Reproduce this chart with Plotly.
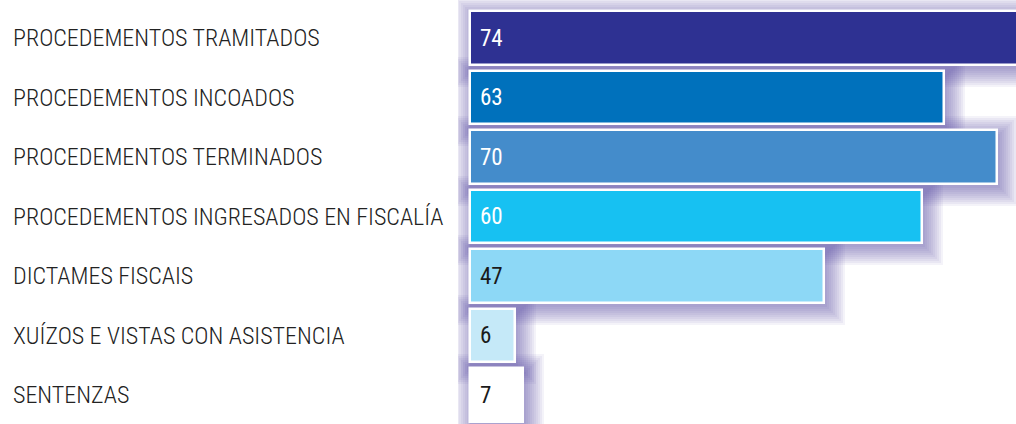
import plotly.graph_objects as go

categories = [
    "PROCEDEMENTOS TRAMITADOS",
    "PROCEDEMENTOS INCOADOS",
    "PROCEDEMENTOS TERMINADOS",
    "PROCEDEMENTOS INGRESADOS EN FISCALÍA",
    "DICTAMES FISCAIS",
    "XUÍZOS E VISTAS CON ASISTENCIA",
    "SENTENZAS",
]
values = [74, 63, 70, 60, 47, 6, 7]
bar_colors = ["#2e3192", "#0071bc", "#448ccb", "#17c1f2", "#8dd8f6", "#c5e9f8", "#ffffff"]
text_colors = ["#ffffff", "#ffffff", "#ffffff", "#ffffff", "#1a1a1a", "#1a1a1a", "#1a1a1a"]

W, H = 1016, 424
zero_px = 470
left_px = 458
px_per_unit = 7.53
pitch = 59.5
first_center = 38
x_min = -(zero_px - left_px) / px_per_unit
x_max = (W - zero_px) / px_per_unit
r0 = -first_center / pitch
r1 = r0 + H / pitch
bw = 0.9
FONT = "Roboto Condensed, DejaVu Sans Condensed, sans-serif"

fig = go.Figure()

# soft purple drop shadow built from stacked translucent bars (sizes in px)
dxp, dyp = 3, 4
for r in range(0, 20, 2):
    fig.add_trace(go.Bar(
        y=categories,
        x=[v + (dxp + r) / px_per_unit + max(r - dxp, 0) / px_per_unit for v in values],
        base=-max(r - dxp, 0) / px_per_unit,
        orientation="h", width=bw + 2 * r / pitch,
        offset=-(bw / 2) - r / pitch + dyp / pitch,
        marker=dict(color="rgba(95,75,170,0.065)", line=dict(width=0)),
        hoverinfo="skip", showlegend=False,
    ))

fig.add_trace(go.Bar(
    y=categories, x=values, orientation="h", width=bw,
    marker=dict(color=bar_colors, line=dict(color="#ffffff", width=2.5)),
    hoverinfo="skip", showlegend=False,
))

for c, v, tc in zip(categories, values, text_colors):
    fig.add_annotation(
        x=0, xref="x", y=c, yref="y", xshift=8,
        text=str(v), showarrow=False, xanchor="left", yanchor="middle",
        font=dict(family=FONT, size=23, color=tc, weight=400),
    )
    fig.add_annotation(
        x=-(left_px - 11) / (W - left_px), xref="paper", y=c, yref="y",
        text=c, showarrow=False, xanchor="left", yanchor="middle",
        font=dict(family=FONT, size=24, color="#222222", weight=300),
    )

fig.update_layout(
    width=W, height=H,
    margin=dict(l=left_px, r=0, t=0, b=0),
    paper_bgcolor="#ffffff", plot_bgcolor="#ffffff",
    barmode="overlay", bargap=0,
    xaxis=dict(range=[x_min, x_max], showgrid=False, zeroline=False, showticklabels=False, fixedrange=True),
    yaxis=dict(range=[r1, r0], showgrid=False, showticklabels=False, ticks="", fixedrange=True),
)

fig.write_html("out.html", config={"displayModeBar": False},
               post_script="document.body.style.margin='0';document.body.style.overflow='hidden';")
